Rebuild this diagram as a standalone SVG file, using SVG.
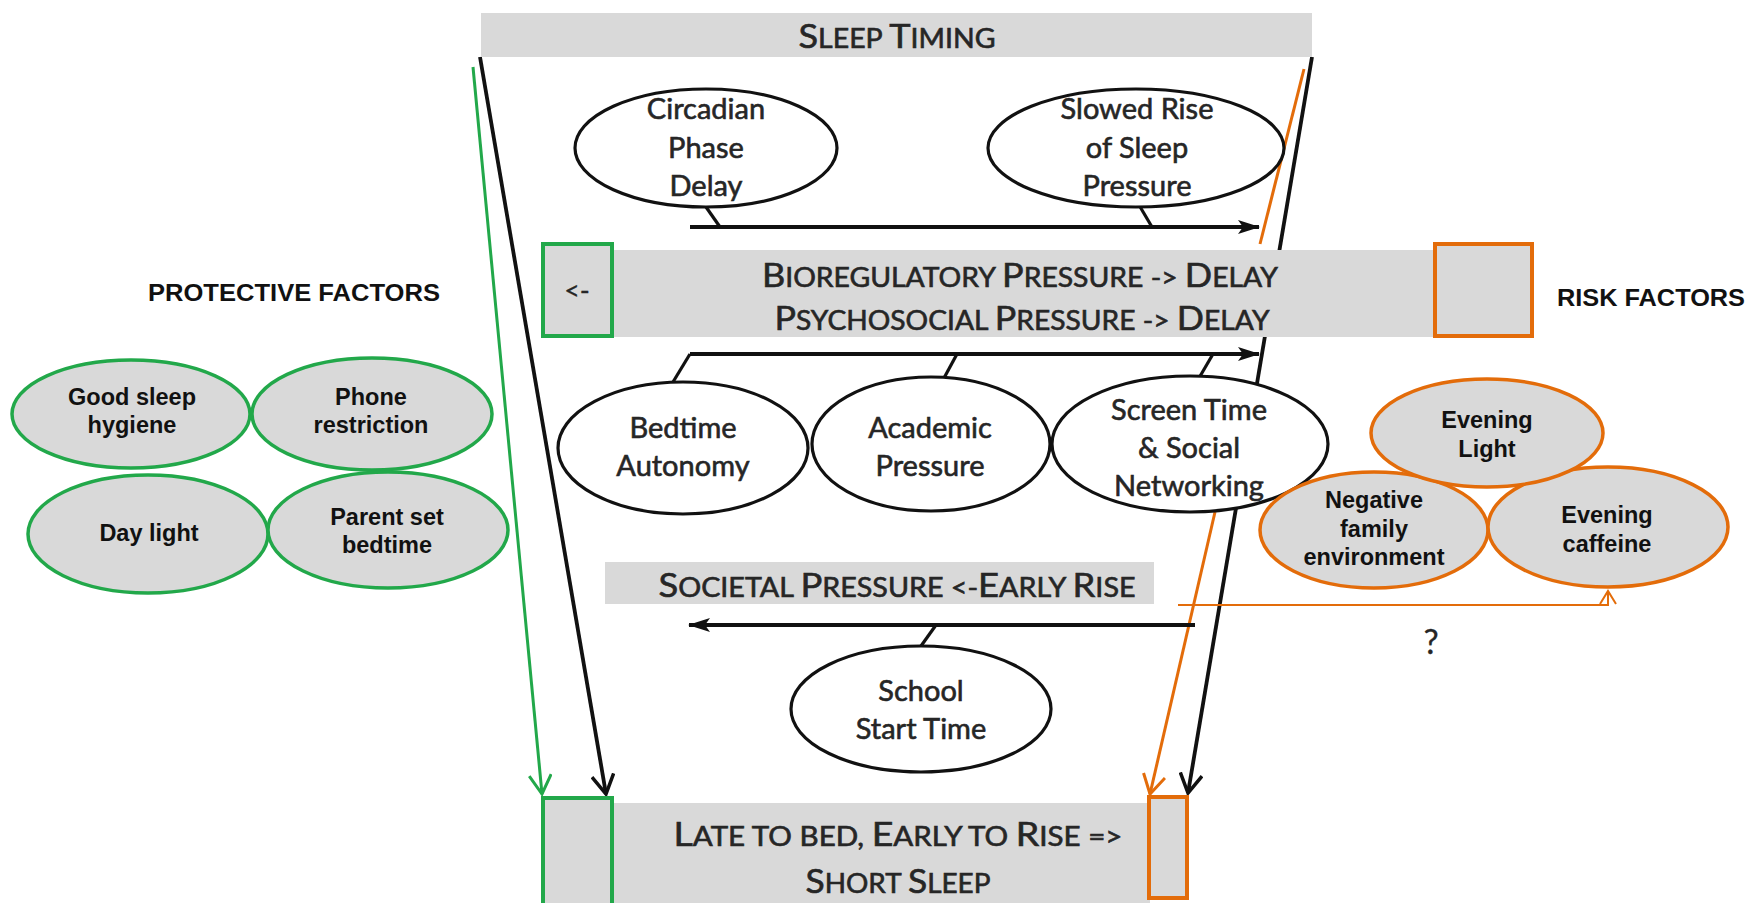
<svg xmlns="http://www.w3.org/2000/svg" width="1751" height="903" viewBox="0 0 1751 903">
<defs>
<style>
.bar{fill:#d9d9d9}
.el{fill:#ffffff;stroke:#111;stroke-width:3.2}
.gel{fill:#d9d9d9;stroke:#22a84a;stroke-width:3.5}
.oel{fill:#d9d9d9;stroke:#e36c0a;stroke-width:3.5}
.gbox{fill:#d9d9d9;stroke:#22a84a;stroke-width:4}
.obox{fill:#d9d9d9;stroke:#e36c0a;stroke-width:4}
.t{font-family:Lato,"Open Sans",sans-serif;font-size:29px;fill:#262626;stroke:#262626;stroke-width:0.6;text-anchor:middle}
.sc{font-family:Lato,"Open Sans",sans-serif;fill:#262626;stroke:#262626;stroke-width:0.6;text-anchor:middle}
.b{font-size:33px}
.s{font-size:26px}
.f{font-family:"Liberation Sans",Arial,sans-serif;font-weight:bold;font-size:23.5px;fill:#111;text-anchor:middle}
.h{font-family:"Liberation Sans",Arial,sans-serif;font-weight:bold;font-size:24px;fill:#111}
.k{fill:none;stroke:#111;stroke-width:3.8}
.kt{fill:none;stroke:#111;stroke-width:3.2}
.g{fill:none;stroke:#22a84a;stroke-width:3}
.o{fill:none;stroke:#e36c0a;stroke-width:3}
.o2{fill:none;stroke:#e36c0a;stroke-width:2}
</style>
<marker id="af" viewBox="0 0 22 14" markerWidth="22" markerHeight="14" refX="21" refY="7" orient="auto" markerUnits="userSpaceOnUse">
<path d="M0,0 L22,7 L0,14 L5,7 z" fill="#111"/>
</marker>
<marker id="vk" viewBox="0 0 22 24" markerWidth="22" markerHeight="24" refX="20" refY="12" orient="auto" markerUnits="userSpaceOnUse">
<path d="M1,1 L20,12 L1,23" fill="none" stroke="#111" stroke-width="3.5"/>
</marker>
<marker id="vg" viewBox="0 0 22 24" markerWidth="22" markerHeight="24" refX="20" refY="12" orient="auto" markerUnits="userSpaceOnUse">
<path d="M1,1 L20,12 L1,23" fill="none" stroke="#22a84a" stroke-width="3"/>
</marker>
<marker id="vo" viewBox="0 0 22 24" markerWidth="22" markerHeight="24" refX="20" refY="12" orient="auto" markerUnits="userSpaceOnUse">
<path d="M1,1 L20,12 L1,23" fill="none" stroke="#e36c0a" stroke-width="3"/>
</marker>
<marker id="vo2" viewBox="0 0 16 18" markerWidth="16" markerHeight="18" refX="14" refY="9" orient="auto" markerUnits="userSpaceOnUse">
<path d="M1,1 L14,9 L1,17" fill="none" stroke="#e36c0a" stroke-width="2"/>
</marker>
</defs>
<rect width="1751" height="903" fill="#ffffff"/>

<g id="connectors">
<line class="k" x1="480" y1="57" x2="606" y2="794" marker-end="url(#vk)"/>
<line class="g" x1="473" y1="67" x2="542" y2="794" marker-end="url(#vg)"/>
<line class="k" x1="1312" y1="57" x2="1188" y2="793" marker-end="url(#vk)"/>
<line class="o" x1="1304" y1="69" x2="1260" y2="244"/>
<line class="o" x1="1215" y1="512" x2="1150" y2="794" marker-end="url(#vo)"/>
<line class="k" x1="690" y1="227" x2="1259" y2="227" marker-end="url(#af)"/>
<line class="kt" x1="706" y1="207" x2="720" y2="227"/>
<line class="kt" x1="1139" y1="205" x2="1152" y2="227"/>
<line class="k" x1="690" y1="354" x2="1259" y2="354" marker-end="url(#af)"/>
<line class="kt" x1="673" y1="382" x2="690" y2="354"/>
<line class="kt" x1="944" y1="378" x2="957" y2="354"/>
<line class="kt" x1="1199" y1="378" x2="1213" y2="354"/>
<line class="k" x1="1195" y1="625" x2="689" y2="625" marker-end="url(#af)"/>
<line class="kt" x1="921" y1="646" x2="936" y2="625"/>
<polyline class="o2" points="1178,605 1608,605 1608,591" marker-end="url(#vo2)"/>
</g>

<g id="sleep-timing">
<rect class="bar" x="481" y="13" width="831" height="44"/>
<text class="sc" x="897" y="48" textLength="197" lengthAdjust="spacingAndGlyphs"><tspan class="b">S</tspan><tspan class="s">LEEP </tspan><tspan class="b">T</tspan><tspan class="s">IMING</tspan></text>
</g>

<g id="circadian">
<ellipse class="el" cx="706" cy="148" rx="131" ry="59"/>
<text class="t" x="706" y="119">Circadian</text>
<text class="t" x="706" y="158">Phase</text>
<text class="t" x="706" y="196">Delay</text>
</g>

<g id="slowed-rise">
<ellipse class="el" cx="1136" cy="148" rx="148" ry="59"/>
<text class="t" x="1137" y="119">Slowed Rise</text>
<text class="t" x="1137" y="158">of Sleep</text>
<text class="t" x="1137" y="196">Pressure</text>
</g>

<g id="pressure-bar">
<rect class="bar" x="613" y="250" width="824" height="87"/>
<text class="sc" x="1020" y="287" textLength="516" lengthAdjust="spacingAndGlyphs"><tspan class="b">B</tspan><tspan class="s">IOREGULATORY </tspan><tspan class="b">P</tspan><tspan class="s">RESSURE -&gt; </tspan><tspan class="b">D</tspan><tspan class="s">ELAY</tspan></text>
<text class="sc" x="1022" y="330" textLength="495" lengthAdjust="spacingAndGlyphs"><tspan class="b">P</tspan><tspan class="s">SYCHOSOCIAL </tspan><tspan class="b">P</tspan><tspan class="s">RESSURE -&gt; </tspan><tspan class="b">D</tspan><tspan class="s">ELAY</tspan></text>
</g>

<g id="protective-box-top">
<rect class="gbox" x="543" y="244" width="69" height="92"/>
<text class="sc" x="577" y="300" style="font-size:27px;stroke-width:0.3">&lt;-</text>
</g>

<g id="risk-box-top">
<rect class="obox" x="1435" y="244" width="97" height="92"/>
</g>

<g id="bedtime-autonomy">
<ellipse class="el" cx="683" cy="448" rx="125" ry="66"/>
<text class="t" x="683" y="438">Bedtime</text>
<text class="t" x="683" y="476">Autonomy</text>
</g>

<g id="academic-pressure">
<ellipse class="el" cx="931" cy="444" rx="119" ry="67"/>
<text class="t" x="930" y="438">Academic</text>
<text class="t" x="930" y="476">Pressure</text>
</g>

<g id="screen-time">
<ellipse class="el" cx="1190" cy="444" rx="138" ry="68"/>
<text class="t" x="1189" y="420">Screen Time</text>
<text class="t" x="1189" y="458">&amp; Social</text>
<text class="t" x="1189" y="496">Networking</text>
</g>

<g id="societal-pressure">
<rect class="bar" x="605" y="562" width="549" height="42"/>
<text class="sc" x="897" y="597" textLength="477" lengthAdjust="spacingAndGlyphs"><tspan class="b">S</tspan><tspan class="s">OCIETAL </tspan><tspan class="b">P</tspan><tspan class="s">RESSURE &lt;-</tspan><tspan class="b">E</tspan><tspan class="s">ARLY </tspan><tspan class="b">R</tspan><tspan class="s">ISE</tspan></text>
</g>

<g id="school-start-time">
<ellipse class="el" cx="921" cy="709" rx="130" ry="63"/>
<text class="t" x="921" y="701">School</text>
<text class="t" x="921" y="739">Start Time</text>
</g>

<g id="short-sleep">
<rect class="bar" x="612" y="803" width="538" height="100"/>
<rect class="gbox" x="543" y="798" width="69" height="108"/>
<rect class="obox" x="1149" y="797" width="38" height="101"/>
<text class="sc" x="898" y="846" textLength="449" lengthAdjust="spacingAndGlyphs"><tspan class="b">L</tspan><tspan class="s">ATE TO BED, </tspan><tspan class="b">E</tspan><tspan class="s">ARLY TO </tspan><tspan class="b">R</tspan><tspan class="s">ISE =&gt;</tspan></text>
<text class="sc" x="898" y="893" textLength="185" lengthAdjust="spacingAndGlyphs"><tspan class="b">S</tspan><tspan class="s">HORT </tspan><tspan class="b">S</tspan><tspan class="s">LEEP</tspan></text>
</g>

<g id="protective-factors">
<text class="h" x="148" y="301" textLength="292" lengthAdjust="spacingAndGlyphs">PROTECTIVE FACTORS</text>
</g>

<g id="good-sleep-hygiene">
<ellipse class="gel" cx="131" cy="414" rx="119" ry="54"/>
<text class="f" x="132" y="405">Good sleep</text>
<text class="f" x="132" y="433">hygiene</text>
</g>

<g id="phone-restriction">
<ellipse class="gel" cx="372" cy="414" rx="120" ry="56"/>
<text class="f" x="371" y="405">Phone</text>
<text class="f" x="371" y="433">restriction</text>
</g>

<g id="day-light">
<ellipse class="gel" cx="148" cy="534" rx="120" ry="59"/>
<text class="f" x="149" y="541">Day light</text>
</g>

<g id="parent-set-bedtime">
<ellipse class="gel" cx="388" cy="530" rx="120" ry="58"/>
<text class="f" x="387" y="525">Parent set</text>
<text class="f" x="387" y="553">bedtime</text>
</g>

<g id="risk-factors">
<text class="h" x="1557" y="306" textLength="188" lengthAdjust="spacingAndGlyphs">RISK FACTORS</text>
</g>

<g id="negative-family">
<ellipse class="oel" cx="1374" cy="530" rx="114" ry="58"/>
<text class="f" x="1374" y="508">Negative</text>
<text class="f" x="1374" y="537">family</text>
<text class="f" x="1374" y="565">environment</text>
</g>

<g id="evening-caffeine">
<ellipse class="oel" cx="1608" cy="527" rx="120" ry="60"/>
<text class="f" x="1607" y="523">Evening</text>
<text class="f" x="1607" y="552">caffeine</text>
</g>

<g id="evening-light">
<ellipse class="oel" cx="1487" cy="433" rx="116" ry="54"/>
<text class="f" x="1487" y="428">Evening</text>
<text class="f" x="1487" y="457">Light</text>
</g>

<g id="question">
<text class="t" x="1431" y="654" style="font-size:34px;stroke-width:0.3">?</text>
</g>
</svg>
